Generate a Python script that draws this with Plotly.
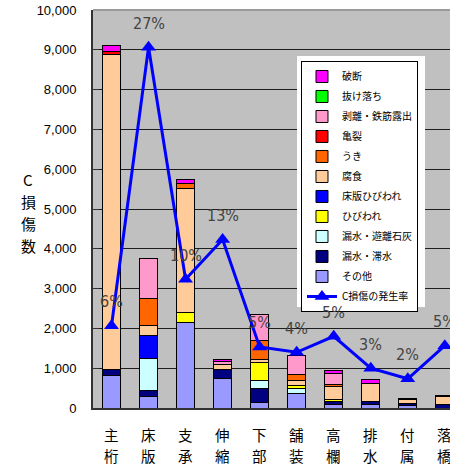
import plotly.graph_objects as go

# Members (x categories)
categories = ["主桁", "床版", "支承", "伸縮", "下部", "舗装", "高欄", "排水", "付属", "落橋"]

# C-rank damage counts per damage type (stack order: bottom -> top)
sonota = [810, 300, 2160, 730, 140, 370, 100, 100, 70, 0]          # その他
rousui_taisui = [165, 130, 0, 250, 360, 0, 60, 60, 35, 90]        # 漏水・滞水
rousui_yuuri = [0, 815, 0, 0, 185, 110, 0, 0, 0, 0]               # 漏水・遊離石灰
hibiware = [0, 0, 240, 0, 465, 75, 50, 0, 0, 0]                   # ひびわれ
shouban_hibiware = [0, 570, 0, 0, 0, 0, 0, 0, 0, 0]               # 床版ひびわれ
fushoku = [7895, 270, 3110, 120, 60, 135, 320, 460, 110, 190]     # 腐食
uki = [0, 655, 130, 0, 485, 145, 50, 0, 0, 0]                     # うき
kiretsu = [80, 0, 0, 0, 0, 0, 0, 0, 30, 40]                       # 亀裂
hakuri = [0, 1015, 0, 60, 650, 485, 280, 0, 0, 0]                 # 剥離・鉄筋露出
nukeochi = [0, 0, 0, 0, 0, 0, 0, 0, 0, 0]                         # 抜け落ち
hadan = [150, 0, 95, 70, 0, 0, 75, 85, 0, 0]                      # 破断

# Occurrence rate of C-rank damage (%)
rate = [6.2, 27.2, 9.7, 12.7, 4.6, 4.2, 5.4, 3.0, 2.2, 4.7]

# Vertical axis title, one character per line
title_chars = ["C", "損", "傷", "数"]

series = [
    ("その他", sonota, "#9999FF"),
    ("漏水・滞水", rousui_taisui, "#000080"),
    ("漏水・遊離石灰", rousui_yuuri, "#CCFFFF"),
    ("ひびわれ", hibiware, "#FFFF00"),
    ("床版ひびわれ", shouban_hibiware, "#0000FF"),
    ("腐食", fushoku, "#FFCC99"),
    ("うき", uki, "#FF6600"),
    ("亀裂", kiretsu, "#FF0000"),
    ("剥離・鉄筋露出", hakuri, "#FF99CC"),
    ("抜け落ち", nukeochi, "#00FF00"),
    ("破断", hadan, "#FF00FF"),
]

CJK = "Noto Sans CJK JP, sans-serif"
n_series = len(series)

fig = go.Figure()

for i, (name, vals, color) in enumerate(series):
    fig.add_trace(go.Bar(
        x=categories, y=[v if v else None for v in vals], name=name,
        marker=dict(color=color, line=dict(color="#000000", width=1)),
        width=0.49, legendgroup=name, legendrank=n_series - i,
    ))

# Rate line on the secondary axis
fig.add_trace(go.Scatter(
    x=categories, y=rate, name="C損傷の発生率", yaxis="y2",
    mode="lines+markers",
    line=dict(color="#0000FF", width=3),
    marker=dict(symbol="triangle-up", size=13, color="#0000FF"),
    legendgroup="rate", legendrank=n_series + 1, cliponaxis=False,
))

# Percentage labels above each rate marker
for c, r in zip(categories, rate):
    fig.add_annotation(
        x=c, y=r, xref="x", yref="y2", text=f"{r:.0f}%", showarrow=False,
        yshift=24, yanchor="middle",
        font=dict(family="Liberation Sans Narrow, DejaVu Sans Condensed, Arial", size=16, color="#444444"),
    )

# Category labels, written vertically one character per line
for c in categories:
    for k, ch in enumerate(c):
        fig.add_annotation(
            x=c, y=-0.0678, xref="x", yref="paper", text=ch, showarrow=False,
            yshift=-21 * k, yanchor="middle", xanchor="center",
            font=dict(family=CJK, size=14.5, color="#000000"),
        )

for k, ch in enumerate(title_chars):
    fig.add_annotation(
        x=-0.182, y=0.573, xref="paper", yref="paper", text=ch,
        showarrow=False, xanchor="center", yanchor="middle", yshift=-21.7 * k,
        font=dict(family=CJK, size=15, color="#000000"),
    )

fig.update_layout(
    width=450, height=469,
    margin=dict(l=93, r=0, t=10, b=61),
    paper_bgcolor="#FFFFFF", plot_bgcolor="#C0C0C0",
    barmode="stack", showlegend=True,
    xaxis=dict(
        type="category", range=[-0.5, 9.14],
        showticklabels=False,
        showgrid=False, ticks="", showline=True, linecolor="#333333", linewidth=2,
    ),
    yaxis=dict(
        range=[0, 10000], dtick=1000, tick0=0, tickformat=",d",
        tickfont=dict(family="Liberation Sans, Arial", size=13, color="#000000"),
        showgrid=True, gridcolor="#1e1e1e", gridwidth=1.3, zeroline=False,
        showline=True, linecolor="#333333", linewidth=2,
        ticks="inside", ticklen=6, tickcolor="#333333",
        ticklabelstandoff=12,
    ),
    yaxis2=dict(range=[0, 30], overlaying="y", side="right", visible=False),
    legend=dict(
        x=0.5826, y=0.8719, xanchor="left", yanchor="top",
        bgcolor="#FFFFFF", bordercolor="#000000", borderwidth=1,
        font=dict(family=CJK, size=10, color="#000000"),
        traceorder="grouped", tracegroupgap=1,
    ),
    shapes=[
        # light top border of the plot area
        dict(type="line", xref="paper", yref="paper", x0=0, x1=1, y0=1, y1=1,
             line=dict(color="#9A9A9A", width=2), layer="above"),
        # white frame around the legend box
        dict(type="rect", xref="paper", yref="paper", x0=0.5714, x1=0.930,
             y0=0.2538, y1=0.8844, fillcolor="#FFFFFF", line=dict(width=0),
             layer="above"),
    ],
)

fig.write_html("out.html")
